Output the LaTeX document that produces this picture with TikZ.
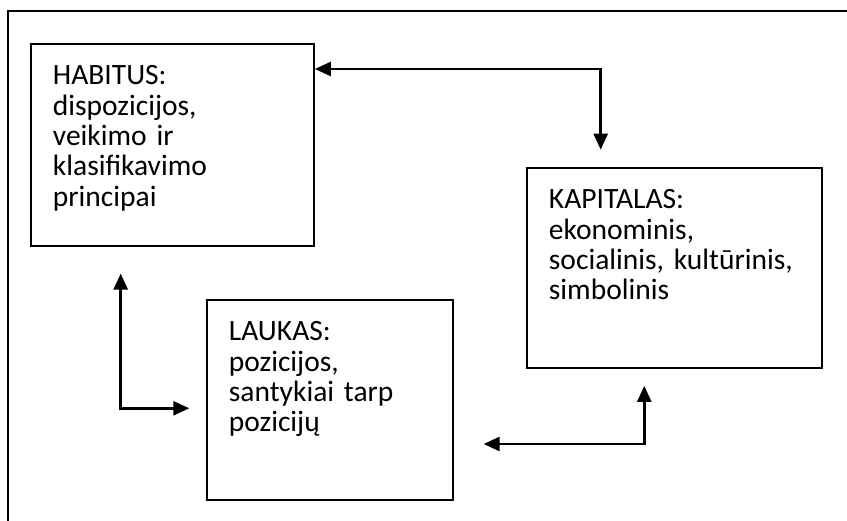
\documentclass[tikz,border=0pt]{standalone}
\usepackage{fontspec}
\setmainfont{Carlito}
\usetikzlibrary{arrows.meta}

\begin{document}
\begin{tikzpicture}[x=1pt,y=-1pt,
	blokas/.style={draw,line width=1.9pt,anchor=north west,align=left,inner xsep=22pt,inner ysep=0pt,text height=41pt,font=\fontsize{29.5}{30.3}\selectfont},
	rodykle/.style={{Triangle[length=16pt,width=14pt]}-{Triangle[length=16pt,width=14pt]},line width=2.6pt}]
	\useasboundingbox (0,0) rectangle (847,521);
	\draw[line width=1.9pt] (8.3,530) -- (8.3,10.7) -- (860,10.7);
	\node[blokas,text width=239pt,text depth=161pt] (habitus) at (30,43) {HABITUS:\\dispozicijos,\\veikimo ir\\klasifikavimo\\principai};
	\node[blokas,text width=251pt,text depth=159pt] (kapitalas) at (526,167) {KAPITALAS:\\ekonominis,\\socialinis, kultūrinis,\\simbolinis};
	\node[blokas,text width=202pt,text depth=159pt] (laukas) at (206,299) {LAUKAS:\\pozicijos,\\santykiai tarp\\pozicijų};
	\coordinate (lenkis1) at (600.7,69);
	\coordinate (lenkis2) at (120.7,408.3);
	\coordinate (lenkis3) at (644.3,444);
	\draw[rodykle,shorten >=17.3pt] (habitus.east |- lenkis1) -| (kapitalas.north -| lenkis1);
	\draw[rodykle,shorten <=26.7pt,shorten >=16.7pt] (habitus.south -| lenkis2) |- (laukas.west |- lenkis2);
	\draw[rodykle,shorten <=17pt,shorten >=29.7pt] (kapitalas.south -| lenkis3) |- (laukas.east |- lenkis3);
\end{tikzpicture}
\end{document}
